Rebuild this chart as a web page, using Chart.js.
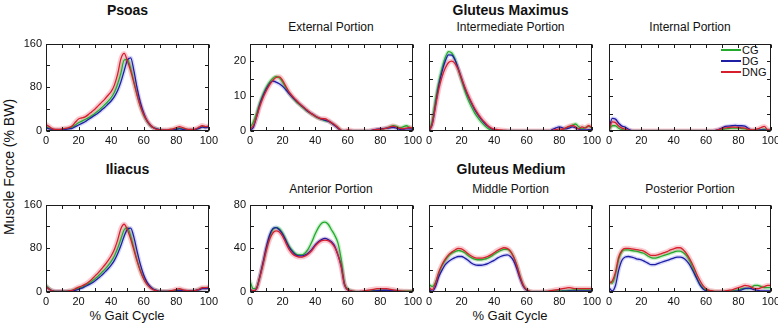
<!DOCTYPE html>
<html><head><meta charset="utf-8">
<script src="https://cdn.jsdelivr.net/npm/chart.js@4.4.1/dist/chart.umd.min.js"></script>
<style>
body{margin:0;background:#fff;}
#wrap{position:relative;width:778px;height:325px;overflow:hidden;font-family:"Liberation Sans",Arial,sans-serif;color:#111;background:#fff;}
canvas{position:absolute;}
.t{position:absolute;transform:translate(-50%,-50%);white-space:nowrap;line-height:1;}
.b{font-weight:bold;font-size:14px;}
.s{font-size:12px;}
.ax{font-size:13px;}
.lg{position:absolute;font-size:11px;line-height:1;width:50px;height:40px;}
.lg div.l{position:absolute;left:0;width:20px;height:1.5px;}
.lg div.x{position:absolute;left:21px;transform:translateY(-50%);white-space:nowrap;}
</style></head><body>
<div id="wrap">
  <div class="t b" style="left:127.5px;top:9.5px">Psoas</div>
  <div class="t b" style="left:510.5px;top:9.5px">Gluteus Maximus</div>
  <div class="t s" style="left:331px;top:27px">External Portion</div>
  <div class="t s" style="left:510.5px;top:27px">Intermediate Portion</div>
  <div class="t s" style="left:690px;top:27px">Internal Portion</div>
  <div class="t b" style="left:127.5px;top:168.5px">Iliacus</div>
  <div class="t b" style="left:511px;top:168.5px">Gluteus Medium</div>
  <div class="t s" style="left:331px;top:188.5px">Anterior Portion</div>
  <div class="t s" style="left:510.5px;top:188.5px">Middle Portion</div>
  <div class="t s" style="left:690px;top:188.5px">Posterior Portion</div>
  <div class="t" style="left:8.5px;top:167px;font-size:14px;transform:translate(-50%,-50%) rotate(-90deg)">Muscle Force (% BW)</div>
  <div class="t ax" style="left:127px;top:315px">% Gait Cycle</div>
  <div class="t ax" style="left:510px;top:315px">% Gait Cycle</div>
  <div class="lg" id="legend" style="left:721px;top:49px"></div>
</div>
<script>
// x values (% gait cycle)
const gaitCycle = [0,2,4,6,8,10,12,14,16,18,20,22,24,26,28,30,32,34,36,38,40,42,44,46,48,50,52,54,56,58,60,62,64,66,68,70,72,74,76,78,80,82,84,86,88,90,92,94,96,98,100];
const groupNames = ["CG","DG","DNG"];

// Psoas
const psoasCG  = [8,5,3,2,2,3,4,5,7,11, 15,18,21,24,28,32,37,42,48,54, 61,71,86,106,130,131,115,90,66,45, 29,18,10,6,4,2,1,1,2,3, 4,5,4,3,2,2,3,5,8,7, 8];
const psoasDG  = [6,4,3,2,2,2,3,4,5,8, 11,14,17,21,25,29,33,38,43,49, 55,63,74,90,110,130,134,110,78,52, 33,19,11,6,4,2,1,1,1,2, 3,4,3,2,2,2,3,5,7,6, 8];
const psoasDNG = [12,8,4,3,3,4,5,6,9,16, 22,24,26,30,35,40,46,52,58,65, 72,84,104,132,142,128,110,88,65,45, 30,19,11,6,3,2,2,2,3,4, 6,8,6,4,3,3,4,7,10,8, 9];
// Iliacus
const iliacusCG  = [12,6,2,1,1,1,1,2,3,5, 7,9,12,15,19,24,29,35,41,48, 56,66,80,97,114,118,103,80,58,39, 25,15,9,5,3,1,1,1,1,2, 3,4,3,2,2,2,3,5,7,7, 8];
const iliacusDG  = [10,5,2,1,1,1,1,1,2,3, 5,7,10,13,16,20,25,30,36,42, 49,58,70,85,102,115,117,100,74,50, 31,18,10,5,3,1,1,1,1,1, 2,3,3,2,2,2,3,4,6,6, 7];
const iliacusDNG = [10,5,2,1,1,1,1,2,3,6, 9,11,14,18,23,29,35,42,49,57, 66,78,95,116,124,114,97,77,56,38, 24,14,8,4,2,1,1,1,2,3, 5,6,4,3,2,2,3,5,8,8, 9];
// Gluteus Maximus - External
const extCG  = [1,2.5,5,8,10.5,12.5,14,15,15.6,15.2, 14,12.3,10.8,9.6,8.6,7.7,6.9,6.1,5.4,4.8, 4.2,3.7,3.3,3,2.8,2.3,1.7,0.9,0.2,0, 0,0,0,0,0,0,0,0,0.1,0.3, 0.4,0.6,0.8,1.2,1.5,1.3,0.9,1.2,1.5,1, 0.6];
const extDG  = [0.3,1,4,7.5,10,12,13.5,14.3,14,13.5, 12.8,11.8,10.7,9.7,8.8,7.9,7.1,6.3,5.5,4.9, 4.3,3.8,3.4,3.1,2.8,2.3,1.6,0.8,0.1,0, 0,0,0,0,0,0,0,0.1,0.3,0.5, 0.6,0.7,0.8,0.9,1,0.8,0.5,0.5,0.6,0.6, 0.5];
const extDNG = [0.5,1.5,4,7,9.5,11.5,13.2,14.5,15.3,15.5, 14.5,12.8,11.2,10,9,8,7.2,6.4,5.6,4.9, 4.3,3.8,3.5,3.5,3,2.4,1.8,1,0.2,0, 0.3,0.2,0,0,0,0,0,0.1,0.3,0.4, 0.5,0.6,0.8,1.2,1.4,1.1,0.8,0.6,0.8,1, 0.8];
// Gluteus Maximus - Intermediate
const intmCG  = [0,3,9,14,18,21,22.7,22.3,20.5,17.5, 14.5,11.5,9,7,5.2,3.8,2.6,1.6,0.8,0.3, 0,0,0,0,0,0,0,0,0,0, 0,0,0,0,0,0,0,0,0,0, 0.1,0.3,0.8,1.2,1.6,2,1.2,0.6,1,1.3, 1];
const intmDG  = [0,2,7.5,13,17,20,21.8,21.7,20.3,17.8, 15,12.3,10,8,6.2,4.7,3.4,2.3,1.4,0.7, 0.3,0.1,0,0,0,0,0,0,0,0, 0,0,0,0,0,0,0,0,0.5,0.9, 1.2,0.9,0.6,0.8,1.2,0.9,0.5,0.3,0.3,0.4, 0.4];
const intmDNG = [0,2,7,12,15.5,18,19.6,20,19.3,17.5, 15,12.5,10.3,8.3,6.5,5,3.7,2.6,1.6,0.9, 0.5,0.4,0.3,0.2,0.1,0,0,0,0,0, 0,0,0,0,0,0,0,0,0.2,0.4, 0.6,0.5,0.9,1.3,1.6,1.2,0.6,1.2,0.8,1.5, 1];
// Gluteus Maximus - Internal
const intlCG  = [0.3,1.5,1.5,0.8,0.4,0.2,0,0,0,0, 0,0,0,0,0,0,0,0,0,0, 0,0,0,0,0,0,0,0,0,0, 0,0,0,0,0.2,0.4,0.6,0.7,0.8,0.8, 0.8,0.7,0.6,0.4,0.2,0.2,0.3,0.4,0.5,0.3, 0.2];
const intlDG  = [0.5,3.6,3.4,2.2,1.4,1.1,0.5,0.1,0,0, 0,0,0,0,0,0,0,0,0,0, 0,0,0,0,0,0,0,0,0,0, 0,0,0,0.2,0.5,0.9,1.3,1.4,1.5,1.6, 1.5,1.5,1.4,0.8,0.2,0.1,0.2,0.3,0.3,0.2, 0.2];
const intlDNG = [0.3,2.6,2.4,1.4,0.8,0.5,0.2,0,0,0, 0,0,0,0,0,0,0,0,0,0, 0,0,0,0,0,0,0,0,0,0, 0,0,0,0.2,0.4,0.7,0.9,1,1.1,1.1, 1,0.9,0.8,0.5,0.3,0.4,0.6,1,1.3,0.4, 0.3];
// Gluteus Medium - Anterior
const antCG  = [10,3,4,14,26,39,50,57,59,58, 54,48,42,38,35,34,34,36,40,46, 53,59,63,64,62,57,52,45,30,8, 3,1,0.5,0,0,0,0.5,1,1.5,1.5, 1.5,1.5,1.5,1.5,1.2,1,0.8,0.8,0.8,0.8, 1];
const antDG  = [2,1,3,14,27,41,52,58,59,57, 53,47,41,37,34,33,33,34,36,39, 43,46,48,49,48,46,42,34,24,7, 2,1,0,0,0,0,0.3,0.6,1,1.3, 1.5,1.6,1.6,1.4,1.1,0.8,0.5,0.3,0.3,0.3, 0.3];
const antDNG = [3,1,3,13,25,38,48,54,56,55, 51,45,39,35,33,32,32,33,35,38, 42,45,47,47.5,47,45,41,34,23,7, 2,1,0.5,0.3,0.5,1,1.5,2,2.5,3, 3,3,3,2.5,2,1.5,1,0.8,0.6,0.5, 0.5];
// Gluteus Medium - Middle
const midCG  = [7,5,9,17,24,29,33,35.5,37,38, 37.5,36,33.5,31.5,30,29.5,29.5,30,31,32.5, 34.5,36.5,38,39,39,37,32,24,14,6, 2,0.5,0,0,0,0,0.2,0.5,0.8,1, 1,1.2,1.3,1.5,1.7,2,2,2,2,2, 2];
const midDG  = [3,0.5,5,14,20,25,28,30,31.5,32.5, 32.5,31,29,26.5,25,24.5,24.5,25,26,27.5, 29,31,32.5,33.5,34,32.5,28.5,21,12,5, 1.5,0.3,0,0,0,0,0,0.2,0.3,0.5, 0.5,0.7,0.8,1,1,1,1,1,1,1, 1];
const midDNG = [4,2,8,18,25,30,34,36.5,38.5,40, 39.5,37.5,35,33,31.5,31,31,31.5,32.5,34, 36,38,39.5,40.5,40,37.5,32,24,14,6, 2,0.5,0,0,0,0.2,0.5,1,1.5,2, 2.5,3,3.5,4,3.5,3,3,3,3,3, 3];
// Gluteus Medium - Posterior
const postCG  = [10,8,16,30,37,38.5,38.5,38,37.5,37, 36,35,33,31.5,31,31.5,32.5,33.5,34.5,35.5, 36.5,37.5,37.5,36,33,28,21,14,8,4, 2,1,0.5,0.3,0.3,0.3,0.5,0.7,1,1.5, 2,3,3.5,3,4,6,6,5,4,4, 4];
const postDG  = [4,1,6,20,29,32,32.5,32,31,30, 29.5,28,26.5,25,25,26,27,28,29,30, 31,32,32,31,28.5,24.5,19,13,7,3, 1,0.5,0,0,0,0,0,0.3,0.5,0.8, 1,2,3,3.5,3,2,1.5,1,1,1, 1];
const postDNG = [8,10,18,32,38,40,40,39.5,39,38.5, 38,37,35,33.5,33.5,34,35,36,37,38.5, 39.5,40.5,40.5,38.5,35,30,24,17,11,6, 3,1.5,1,0.5,0.5,0.5,1,1.5,2,3, 4,5,6,5.5,4.5,3,3,4,5,6, 6];

const lineColors = {CG:'rgb(35,170,45)', DG:'rgb(30,30,165)', DNG:'rgb(215,30,45)'};
const bandColors = {CG:'rgba(70,200,80,0.28)', DG:'rgba(90,90,230,0.25)', DNG:'rgba(240,90,110,0.32)'};
const bandWidths = {CG:4, DG:4, DNG:5};

const PH = 92, PADL = 30, PADT = 6, PADR = 12, PADB = 22;
const panels = [
  {left:46,  top:39,  w:163, yMax:160, yStep:40, yLab:80, showY:true,  s:[psoasCG, psoasDG, psoasDNG]},
  {left:250, top:39,  w:163, yMax:25,  yStep:5,  yLab:10, showY:true,  s:[extCG, extDG, extDNG]},
  {left:429, top:39,  w:163, yMax:25,  yStep:5,  yLab:10, showY:false, s:[intmCG, intmDG, intmDNG]},
  {left:609, top:39,  w:162, yMax:25,  yStep:5,  yLab:10, showY:false, s:[intlCG, intlDG, intlDNG]},
  {left:46,  top:200, w:163, yMax:160, yStep:40, yLab:80, showY:true,  s:[iliacusCG, iliacusDG, iliacusDNG]},
  {left:250, top:200, w:163, yMax:80,  yStep:20, yLab:40, showY:true,  s:[antCG, antDG, antDNG]},
  {left:429, top:200, w:163, yMax:80,  yStep:20, yLab:40, showY:false, s:[midCG, midDG, midDNG]},
  {left:609, top:200, w:162, yMax:80,  yStep:20, yLab:40, showY:false, s:[postCG, postDG, postDNG]}
];

const framePlugin = {
  id:'frame',
  afterDraw(chart){
    const {ctx, chartArea:a, scales:{x, y}} = chart;
    ctx.save();
    ctx.strokeStyle = '#1c1c1c';
    ctx.lineWidth = 1;
    const L = Math.round(a.left)+0.5, R = Math.round(a.right)-0.5, T = Math.round(a.top)+0.5, B = Math.round(a.bottom)-0.5;
    ctx.strokeRect(L, T, R-L, B-T);
    const tl = 3.5;
    ctx.beginPath();
    x.ticks.forEach(t => {
      const px = Math.round(x.getPixelForValue(t.value))+0.5;
      ctx.moveTo(px, B); ctx.lineTo(px, B-tl);
      ctx.moveTo(px, T); ctx.lineTo(px, T+tl);
    });
    y.ticks.forEach(t => {
      const py = Math.round(y.getPixelForValue(t.value))+0.5;
      ctx.moveTo(L, py); ctx.lineTo(L+tl, py);
      ctx.moveTo(R, py); ctx.lineTo(R-tl, py);
    });
    ctx.stroke();
    ctx.restore();
  }
};

const wrap = document.getElementById('wrap');
const tickFont = {family:'"Liberation Sans", Arial, sans-serif', size:11};

panels.forEach(p => {
  const cv = document.createElement('canvas');
  cv.width = PADL + p.w + PADR;
  cv.height = PADT + PH + PADB;
  cv.style.left = (p.left - PADL) + 'px';
  cv.style.top = (p.top - PADT) + 'px';
  wrap.appendChild(cv);
  const mains = [], bands = [];
  // draw order: DNG on top, then DG, then CG, then bands beneath
  [2,1,0].forEach(i => {
    const g = groupNames[i];
    const pts = gaitCycle.map((xv, k) => ({x: xv, y: p.s[i][k]}));
    mains.push({label:g, data:pts, borderColor:lineColors[g], borderWidth:1.3, fill:false});
    bands.push({label:g+' SD', data:pts, borderColor:bandColors[g], borderWidth:bandWidths[g], fill:false});
  });
  new Chart(cv, {
    type:'line',
    data:{datasets: mains.concat(bands)},
    options:{
      responsive:false, animation:false, events:[],
      layout:{padding:{left:0, top:PADT, right:PADR, bottom:0}, autoPadding:false},
      plugins:{legend:{display:false}, tooltip:{enabled:false}, title:{display:false}},
      elements:{point:{radius:0}, line:{cubicInterpolationMode:'monotone', borderCapStyle:'round', borderJoinStyle:'round'}},
      scales:{
        x:{type:'linear', min:0, max:100,
           grid:{display:false, drawTicks:false}, border:{display:false},
           ticks:{stepSize:10, autoSkip:false, maxRotation:0, padding:3, color:'#111', font:tickFont,
                  callback:v => (v % 20 === 0 ? String(v) : '')},
           afterFit:s => { s.height = PADB; }},
        y:{type:'linear', min:0, max:p.yMax,
           grid:{display:false, drawTicks:false}, border:{display:false},
           ticks:{stepSize:p.yStep, autoSkip:false, padding:4, color:'#111', font:tickFont,
                  callback:v => (p.showY && v % p.yLab === 0 ? String(v) : '')},
           afterFit:s => { s.width = PADL; }}
      }
    },
    plugins:[framePlugin]
  });
});

// legend (inside Internal Portion panel)
const lg = document.getElementById('legend');
groupNames.forEach((g, i) => {
  const ln = document.createElement('div'); ln.className = 'l';
  ln.style.background = lineColors[g]; ln.style.top = (i*11) + 'px';
  const tx = document.createElement('div'); tx.className = 'x';
  tx.textContent = g; tx.style.top = (i*11 + 1) + 'px';
  lg.appendChild(ln); lg.appendChild(tx);
});
</script>
</body></html>
